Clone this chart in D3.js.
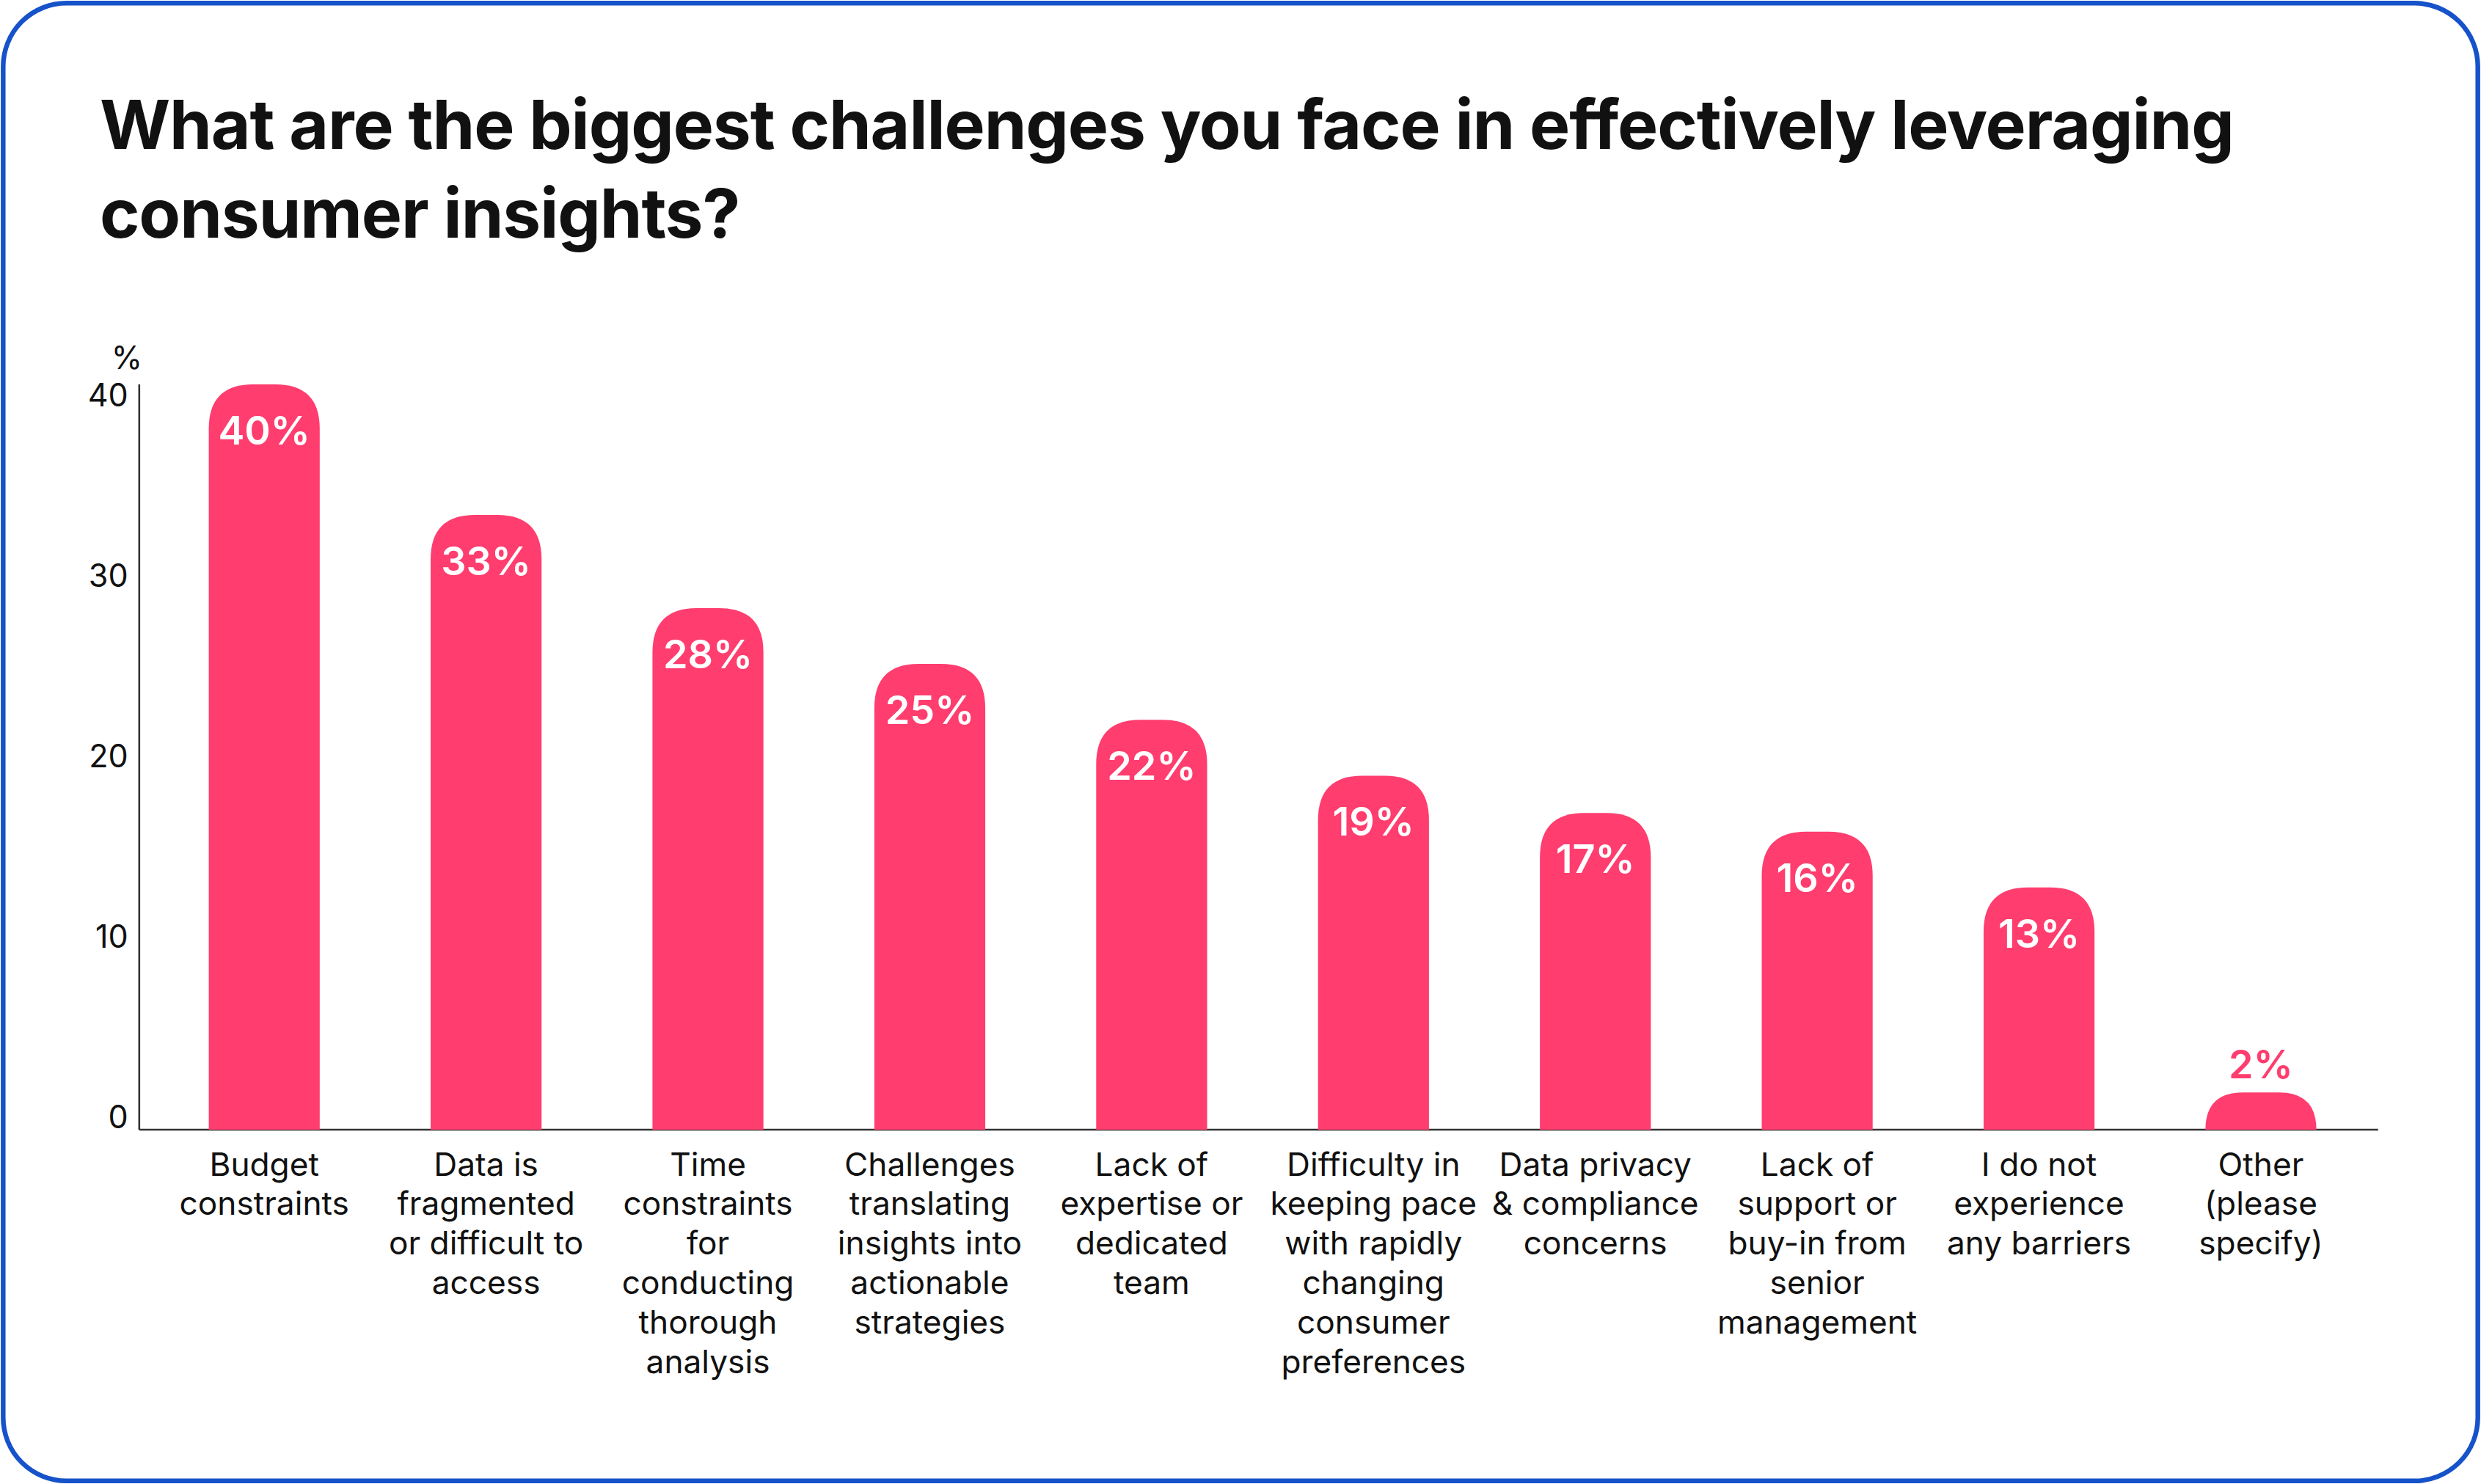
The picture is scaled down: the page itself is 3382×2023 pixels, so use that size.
<!DOCTYPE html>
<html><head><meta charset="utf-8">
<script src="https://cdn.jsdelivr.net/npm/d3@7"></script>
<style>html,body{margin:0;padding:0;background:#fff;}svg{display:block;}</style>
</head><body>
<svg id="c" width="3382" height="2023"></svg>
<script>
const categories = [
  ["Budget","constraints"],
  ["Data is","fragmented","or difficult to","access"],
  ["Time","constraints","for","conducting","thorough","analysis"],
  ["Challenges","translating","insights into","actionable","strategies"],
  ["Lack of","expertise or","dedicated","team"],
  ["Difficulty in","keeping pace","with rapidly","changing","consumer","preferences"],
  ["Data privacy","& compliance","concerns"],
  ["Lack of","support or","buy-in from","senior","management"],
  ["I do not","experience","any barriers"],
  ["Other","(please","specify)"]
];
const values = [40,33,28,25,22,19,17,16,13,2];
const yTicks = [0,10,20,30,40];
const title = ["What are the biggest challenges you face in effectively leveraging","consumer insights?"];

const s = 3382/1568;
const svg = d3.select("#c");
const g = svg.append("g").attr("transform",`scale(${s})`);
const font = "Inter, 'Noto Sans', sans-serif";
const pink = "#ff3d6e";

g.append("rect").attr("x",2).attr("y",2).attr("width",1564).attr("height",934)
 .attr("rx",40).attr("fill","#fff").attr("stroke","#1652c9").attr("stroke-width",3);

g.append("text").attr("font-family",font).attr("font-weight",700).attr("font-size",43)
 .attr("fill","#111").attr("letter-spacing",-0.5)
 .selectAll("tspan").data(title).join("tspan").attr("x",63).attr("y",(d,i)=>94+i*56).text(d=>d);

const x = d3.scaleBand().domain(d3.range(values.length)).range([96.9,1499]).paddingInner(0.5).paddingOuter(0.25);
const y = d3.scaleLinear().domain([0,40]).range([714,243]);
const yLab = d3.scaleLinear().domain([0,40]).range([706,250]);

g.append("line").attr("x1",88).attr("x2",88).attr("y1",y(40)).attr("y2",y(0)).attr("stroke","#333").attr("stroke-width",1.2);
g.append("line").attr("x1",88).attr("x2",1503).attr("y1",y(0)).attr("y2",y(0)).attr("stroke","#333").attr("stroke-width",1.2);
g.selectAll(".yt").data(yTicks).join("text").attr("x",81).attr("y",d=>yLab(d)+7)
 .attr("text-anchor","end").attr("font-family",font).attr("font-size",20).attr("fill","#111").text(d=>d);
g.append("text").attr("x",90).attr("y",233).attr("text-anchor","end").attr("font-family",font).attr("font-size",20).attr("fill","#111").text("%");

const bw = x.bandwidth(), r = Math.min(28, bw/2);
g.selectAll(".bar").data(values).join("path").attr("fill",pink)
 .attr("d",(d,i)=>{
   const x0=x(i), x1=x0+bw, yt=y(d), yb=y(0);
   const rr=Math.min(r,(yb-yt));
   return `M${x0},${yb}V${yt+rr}Q${x0},${yt} ${x0+rr},${yt}H${x1-rr}Q${x1},${yt} ${x1},${yt+rr}V${yb}Z`;
 });
g.selectAll(".vl").data(values).join("text")
 .attr("x",(d,i)=>x(i)+bw/2).attr("y",d=>d<5?y(d)-9:y(d)+38)
 .attr("text-anchor","middle").attr("font-family",font).attr("font-weight",600).attr("font-size",25)
 .attr("fill",d=>d<5?pink:"#fff").text(d=>d+"%");

g.selectAll(".cl").data(categories).join("text")
 .attr("text-anchor","middle").attr("font-family",font).attr("font-size",20.5).attr("fill","#111")
 .each(function(lines,i){
   d3.select(this).selectAll("tspan").data(lines).join("tspan")
     .attr("x",x(i)+bw/2).attr("y",(d,j)=>743+j*25).text(d=>d);
 });
</script>
</body></html>
